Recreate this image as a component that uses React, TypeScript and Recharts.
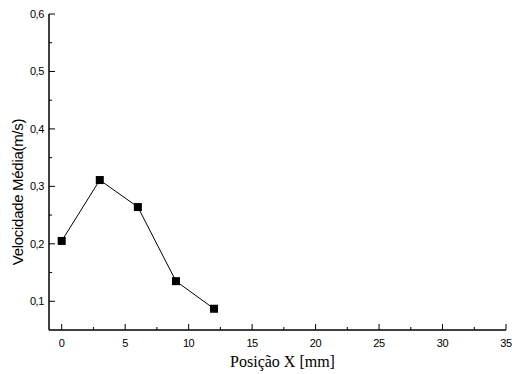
import { LineChart, Line, XAxis, YAxis, Label } from "recharts"

const positions = [0, 3, 6, 9, 12]
const velocities = [0.205, 0.311, 0.264, 0.135, 0.087]

const xTicks = [0, 2.5, 5, 7.5, 10, 12.5, 15, 17.5, 20, 22.5, 25, 27.5, 30, 32.5, 35]
const yTicks = [0.1, 0.15, 0.2, 0.25, 0.3, 0.35, 0.4, 0.45, 0.5, 0.55, 0.6]

const data = positions.map((x, i) => ({ x, v: velocities[i] }))

const tickFont = "'Liberation Sans', Arial, sans-serif"

const XTick = (props: any) => {
  const { x, y, payload } = props
  const v = payload.value
  const major = v % 5 === 0
  return (
    <g>
      <line x1={x} y1={y} x2={x} y2={y - (major ? 6 : 3)} stroke="#000" strokeWidth={1} />
      {major && (
        <text x={x} y={y + 17} textAnchor="middle" fontSize={11} fontFamily={tickFont} letterSpacing={-0.4} fill="#000">
          {v}
        </text>
      )}
    </g>
  )
}

const YTick = (props: any) => {
  const { x, y, payload } = props
  const v = payload.value
  const major = Math.round(v * 100) % 10 === 0
  return (
    <g>
      <line x1={x} y1={y} x2={x + (major ? 6 : 3)} y2={y} stroke="#000" strokeWidth={1} />
      {major && (
        <text x={x - 5} y={y + 4} textAnchor="end" fontSize={11} fontFamily={tickFont} letterSpacing={-0.4} fill="#000">
          {v.toFixed(1).replace(".", ",")}
        </text>
      )}
    </g>
  )
}

const SquareDot = (props: any) => {
  const { cx, cy } = props
  return <rect x={cx - 4} y={cy - 4} width={8} height={8} fill="#000" />
}

export default function App() {
  return (
    <div style={{ width: 512, height: 374 }}>
      <style>{"body { margin: 0; }"}</style>
      <LineChart
        width={512}
        height={374}
        data={data}
        margin={{ top: 14, right: 6, left: 0, bottom: 0 }}
      >
        <XAxis
          dataKey="x"
          type="number"
          domain={[-1, 35]}
          ticks={xTicks}
          allowDataOverflow
          height={44}
          tickSize={0}
          tickMargin={0}
          tickLine={false}
          tick={<XTick />}
          axisLine={{ stroke: "#000", strokeWidth: 1.5 }}
          interval={0}
        >
          <Label
            value="Posição X [mm]"
            position="insideBottom"
            offset={7}
            dx={5}
            style={{ fontFamily: "'Liberation Serif', 'Times New Roman', serif", fontSize: 16, fill: "#000" }}
          />
        </XAxis>
        <YAxis
          type="number"
          domain={[0.05, 0.6]}
          ticks={yTicks}
          allowDataOverflow
          width={49}
          tickSize={0}
          tickMargin={0}
          tickLine={false}
          tick={<YTick />}
          axisLine={{ stroke: "#000", strokeWidth: 1.5 }}
          interval={0}
        >
          <Label
            value="Velocidade Média(m/s)"
            angle={-90}
            position="insideLeft"
            offset={18}
            dy={20}
            style={{ fontFamily: tickFont, fontSize: 15, fill: "#000", textAnchor: "middle", letterSpacing: -0.3 }}
          />
        </YAxis>
        <Line
          dataKey="v"
          stroke="#000"
          strokeWidth={1}
          dot={<SquareDot />}
          activeDot={false}
          isAnimationActive={false}
        />
      </LineChart>
    </div>
  )
}
